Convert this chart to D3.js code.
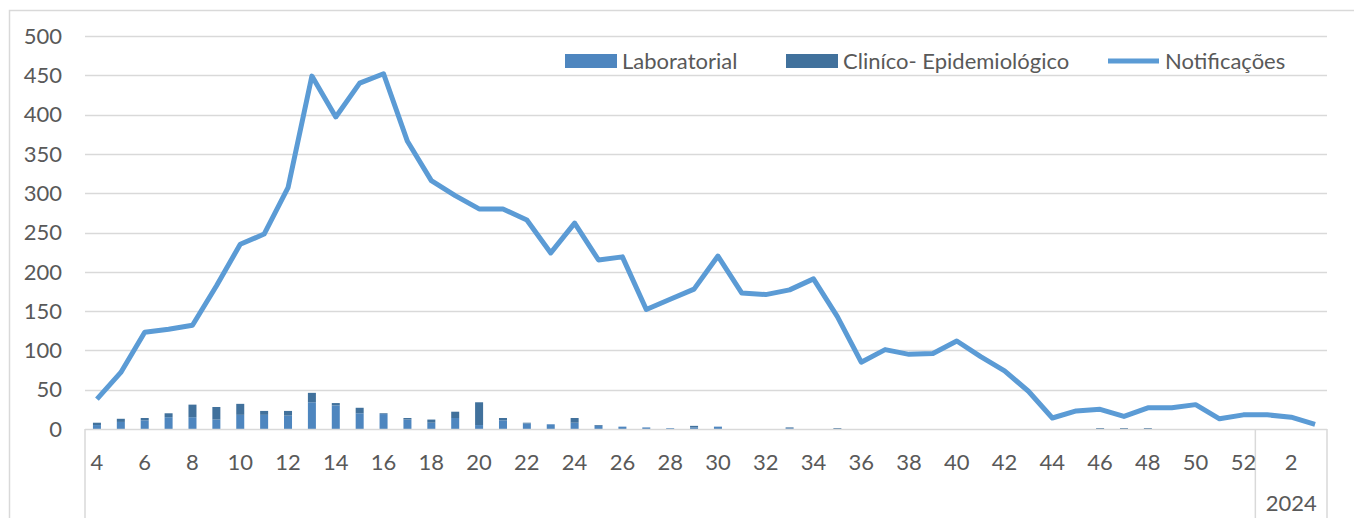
<!DOCTYPE html>
<html>
<head>
<meta charset="utf-8">
<title>Notificações por semana</title>
<script src="https://d3js.org/d3.v7.min.js"></script>
<style>
  body { margin: 0; background: #fff; }
  svg text { font-family: Lato, "Open Sans", sans-serif; fill: #595959; }
</style>
</head>
<body>
<div id="chart"></div>
<script>
// Semanas epidemiológicas (2023: 4..52, 2024: 1..3)
const weeks = ["4","5","6","7","8","9","10","11","12","13","14","15","16","17","18","19","20",
  "21","22","23","24","25","26","27","28","29","30","31","32","33","34","35","36","37","38",
  "39","40","41","42","43","44","45","46","47","48","49","50","51","52","1","2","3"]
const years = ["2023","2023","2023","2023","2023","2023","2023","2023","2023","2023","2023","2023",
  "2023","2023","2023","2023","2023","2023","2023","2023","2023","2023","2023","2023","2023","2023",
  "2023","2023","2023","2023","2023","2023","2023","2023","2023","2023","2023","2023","2023","2023",
  "2023","2023","2023","2023","2023","2023","2023","2023","2023","2024","2024","2024"]

const notificacoes = [38, 72, 123, 127, 132, 182, 235, 248, 307, 449, 397, 440, 452, 366, 316, 297,
  280, 280, 266, 224, 262, 215, 219, 152, 165, 178, 220, 173, 171, 177, 191, 143, 85, 101, 95, 96,
  112, 92, 74, 48, 14, 23, 25, 16, 27, 27, 31, 13, 18, 18, 15, 6]
const laboratorial = [5, 9, 11, 15, 15, 12, 18, 18, 17, 34, 30, 20, 19, 12, 8, 14, 5, 11, 7, 6, 8,
  4, 3, 2, 1, 2, 3, 0, 0, 1, 0, 0, 0, 0, 0, 0, 0, 0, 0, 0, 0, 0, 0, 0, 0, 0, 0, 0, 0, 0, 0, 0]
const clinico = [3, 4, 3, 5, 16, 16, 14, 5, 6, 12, 3, 7, 1, 2, 4, 8, 29, 3, 1, 0, 6, 1, 0, 0, 0,
  2, 0, 0, 0, 1, 0, 1, 0, 0, 0, 0, 0, 0, 0, 0, 0, 0, 1, 1, 1, 0, 0, 0, 0, 0, 0, 0]

const yTicks = [0, 50, 100, 150, 200, 250, 300, 350, 400, 450, 500]
const seriesNames = ["Laboratorial", "Clin\u00edco- Epidemiol\u00f3gico", "Notifica\u00e7\u00f5es"]

const w = 1354
const h = 518
const mLeft = 85, mRight = 1327, mTop = 36, mBottom = 429
const colLab = "#4e86bf", colClin = "#41719c", colLine = "#5b9bd5", grid = "#d9d9d9"
const fs = "22px"

const svg = d3.select("#chart").append("svg")
  .attr("width", w)
  .attr("height", h)

// outer chart frame
svg.append("rect")
  .attr("x", 9.5).attr("y", 10.5)
  .attr("width", w + 20).attr("height", h + 20)
  .attr("fill", "none").attr("stroke", grid).attr("stroke-width", 1.5)

const idx = d3.range(weeks.length)
const x = d3.scaleBand().domain(idx).range([mLeft, mRight]).padding(0)
const y = d3.scaleLinear().domain([0, 500]).range([mBottom, mTop])

// gridlines + y labels
svg.append("g").selectAll("line")
  .data(yTicks.slice(1))
  .enter().append("line")
  .attr("x1", mLeft).attr("x2", mRight)
  .attr("y1", d => Math.round(y(d)) + 0.5).attr("y2", d => Math.round(y(d)) + 0.5)
  .attr("stroke", grid).attr("stroke-width", 1.5)

svg.append("g").selectAll("text")
  .data(yTicks)
  .enter().append("text")
  .attr("x", 62)
  .attr("y", d => y(d))
  .attr("dy", "0.35em")
  .attr("text-anchor", "end")
  .style("font-size", fs)
  .text(d => d)

// stacked bars
const barW = 8
const stackData = idx.map(i => ({ i: i, lab: laboratorial[i], clin: clinico[i] }))
const stacked = d3.stack().keys(["lab", "clin"])(stackData)
const colors = { lab: colLab, clin: colClin }

svg.append("g").selectAll("g")
  .data(stacked)
  .enter().append("g")
  .attr("fill", d => colors[d.key])
  .selectAll("rect")
  .data(d => d)
  .enter().append("rect")
  .attr("x", d => x(d.data.i) + x.bandwidth() / 2 - barW / 2)
  .attr("y", d => y(d[1]))
  .attr("width", barW)
  .attr("height", d => y(d[0]) - y(d[1]))

// x axis line and category group separators
svg.append("line")
  .attr("x1", mLeft).attr("x2", mRight)
  .attr("y1", mBottom + 0.5).attr("y2", mBottom + 0.5)
  .attr("stroke", grid).attr("stroke-width", 1.5)

const i24 = years.indexOf("2024")
const groupEdges = [x(0), x(i24), mRight]
svg.append("g").selectAll("line")
  .data(groupEdges)
  .enter().append("line")
  .attr("x1", d => d).attr("x2", d => d)
  .attr("y1", mBottom).attr("y2", h + 5)
  .attr("stroke", grid).attr("stroke-width", 1.5)

// week labels (every other one)
svg.append("g").selectAll("text")
  .data(idx.filter(i => i % 2 === 0))
  .enter().append("text")
  .attr("x", i => x(i) + x.bandwidth() / 2)
  .attr("y", 462)
  .attr("dy", "0.35em")
  .attr("text-anchor", "middle")
  .style("font-size", fs)
  .text(i => weeks[i])

// year label
svg.append("text")
  .attr("x", (x(i24) + mRight) / 2)
  .attr("y", 503)
  .attr("dy", "0.35em")
  .attr("text-anchor", "middle")
  .style("font-size", fs)
  .text("2024")

// line
const line = d3.line()
  .x((d, i) => x(i) + x.bandwidth() / 2)
  .y(d => y(d))

svg.append("path")
  .datum(notificacoes)
  .attr("d", line)
  .attr("fill", "none")
  .attr("stroke", colLine)
  .attr("stroke-width", 5)
  .attr("stroke-linejoin", "round")

// legend
const legend = [
  { name: seriesNames[0], type: "rect", color: colLab, x: 565 },
  { name: seriesNames[1], type: "rect", color: colClin, x: 786 },
  { name: seriesNames[2], type: "line", color: colLine, x: 1108 }
]

const lg = svg.append("g").selectAll("g")
  .data(legend)
  .enter().append("g")

lg.filter(d => d.type === "rect").append("rect")
  .attr("x", d => d.x).attr("y", 54)
  .attr("width", 52).attr("height", 14)
  .attr("fill", d => d.color)

lg.filter(d => d.type === "line").append("line")
  .attr("x1", d => d.x).attr("x2", d => d.x + 51)
  .attr("y1", 61).attr("y2", 61)
  .attr("stroke", d => d.color).attr("stroke-width", 5)

lg.append("text")
  .attr("x", d => d.x + 57)
  .attr("y", 61)
  .attr("dy", "0.35em")
  .style("font-size", fs)
  .text(d => d.name)
</script>
</body>
</html>
